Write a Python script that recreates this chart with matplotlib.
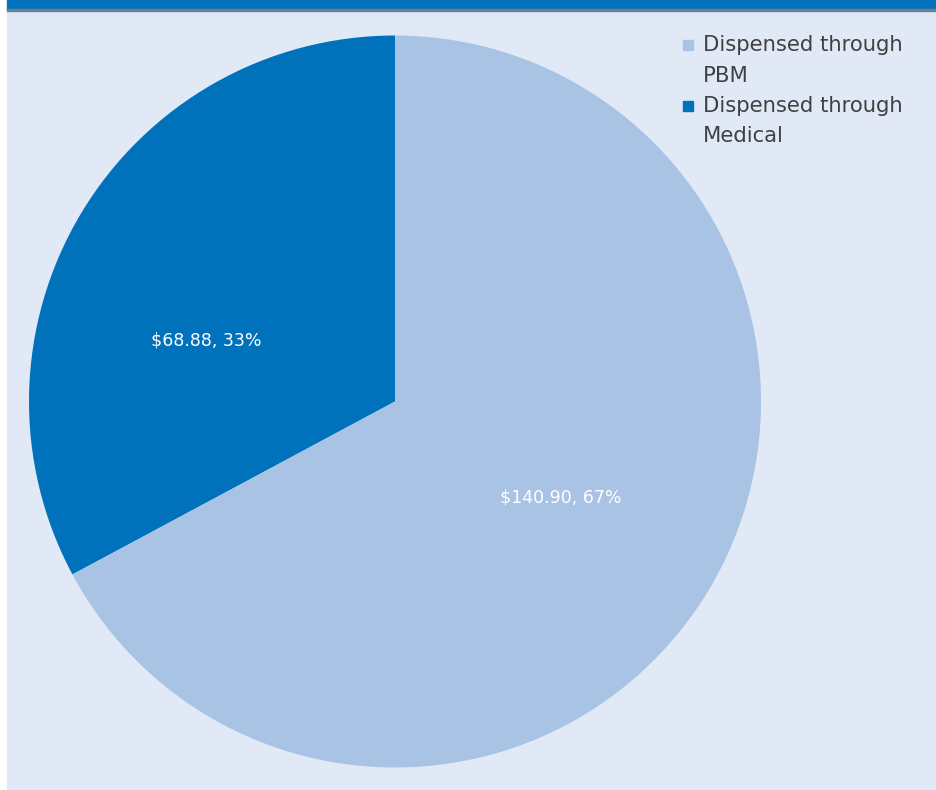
import matplotlib
matplotlib.use('Agg')
import matplotlib.pyplot as plt
import matplotlib.patches as patches

# data
categories = ['Dispensed through\nMedical', 'Dispensed through\nPBM']
values = [68.88, 140.90]
pct_labels = ['$68.88, 33%', '$140.90, 67%']
colors = ['#0072BC', '#A9C3E5']

W, H = 936, 790
fig = plt.figure(figsize=(W / 100, H / 100), dpi=100)
fig.patch.set_facecolor('white')

# background panel + top bar
fig.patches.append(patches.Rectangle((7 / W, 0), 1 - 7 / W, (H - 11) / H,
                                     transform=fig.transFigure, color='#E1E9F6', zorder=-3))
fig.patches.append(patches.Rectangle((7 / W, (H - 9.5) / H), 1 - 7 / W, 9.5 / H,
                                     transform=fig.transFigure, color='#0072BC', zorder=-2))
fig.patches.append(patches.Rectangle((7 / W, (H - 11) / H), 1 - 7 / W, 1.5 / H,
                                     transform=fig.transFigure, color='#6F7F93', zorder=-2))

cx, cy, r = 395, 401.5, 366
ax = fig.add_axes([(cx - r) / W, (H - cy - r) / H, 2 * r / W, 2 * r / H])
ax.set_zorder(5)
ax.set_facecolor('none')
ax.pie(values, colors=colors, startangle=90, counterclock=True, radius=1,
       wedgeprops=dict(linewidth=0))
ax.set_xlim(-1, 1)
ax.set_ylim(-1, 1)
ax.set_aspect('equal')
ax.axis('off')

# value labels
lab_pos = [(-0.516, 0.168), (0.454, -0.261)]
for (x, y), t in zip(lab_pos, pct_labels):
    ax.text(x, y, t.replace('$', r'\$'), color='white', fontsize=12.5,
            ha='center', va='center')

# legend (PBM first)
leg_items = [(categories[1], colors[1]), (categories[0], colors[0])]
y0 = 45
for i, (name, c) in enumerate(leg_items):
    yy = y0 + i * 61
    fig.patches.append(patches.Rectangle((683 / W, (H - yy - 5) / H), 10 / W, 10 / H,
                                         transform=fig.transFigure, color=c, zorder=6))
    lines = name.split('\n')
    for j, ln in enumerate(lines):
        fig.text(703 / W, (H - yy - j * 30.5) / H, ln, fontsize=15.2, color='#404040',
                 ha='left', va='center', zorder=6)

fig.savefig('out.png', dpi=100)
